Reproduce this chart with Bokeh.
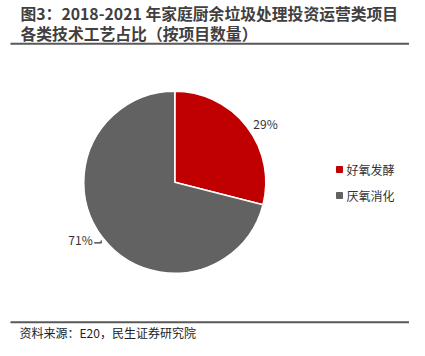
import math
from bokeh.plotting import figure
from bokeh.models import Range1d, ColumnDataSource
from bokeh.core.properties import value
from bokeh.embed import file_html
from bokeh.resources import INLINE

title_lines = ["图3：2018-2021 年家庭厨余垃圾处理投资运营类项目", "各类技术工艺占比（按项目数量）"]
source_note = "资料来源：E20，民生证券研究院"
categories = ["好氧发酵", "厌氧消化"]
shares = [29, 71]
colors = ["#C00000", "#626262"]
labels = ["29%", "71%"]

W, H = 409, 340
FONT = "Noto Sans CJK SC"

p = figure(width=W, height=H, output_backend="svg", toolbar_location=None,
           x_range=Range1d(0, W), y_range=Range1d(0, H), min_border=0)
p.axis.visible = False
p.grid.visible = False
p.outline_line_color = None
p.background_fill_color = "white"

# pie: first slice starts at 12 o'clock going clockwise
total = sum(shares)
cx, cy, r = 174.3, 158.3, 91
ends, starts = [], []
a = math.pi / 2
for s in shares:
    b = a - 2 * math.pi * s / total
    starts.append(b)
    ends.append(a)
    a = b
src = ColumnDataSource(dict(start=starts, end=ends, color=colors, cat=categories))
p.wedge(x=cx, y=cy, radius=r, start_angle="start", end_angle="end",
        fill_color="color", line_color="white", line_width=1.5, source=src)

# data labels
p.text(x=[265, 80], y=[217, 101], text=labels, text_font=value(FONT), text_font_size="12px",
       text_color="#333333", text_align="center", text_baseline="middle")
# leader for 71%
p.line(x=[93.7, 100.7, 100.7], y=[97.7, 97.7, 100], line_color="#333333", line_width=1.2)

# legend
p.scatter(x=[339, 339], y=[171, 145], marker="square", size=6, color=colors)
p.text(x=[346, 346], y=[171, 145], text=categories, text_font=value(FONT), text_font_size="12px",
       text_color="#333333", text_align="left", text_baseline="middle")

# title
p.text(x=[20, 20], y=[327, 307], text=title_lines, text_font=value(FONT), text_font_size="15.8px",
       text_font_style="bold", text_color="#404040", text_align="left", text_baseline="middle")
p.line(x=[10, 409], y=[296.7, 296.7], line_color="#595959", line_width=2)

# footer
p.line(x=[10, 409], y=[18.3, 18.3], line_color="#595959", line_width=2)
p.text(x=[19], y=[8], text=[source_note], text_font=value(FONT), text_font_size="12px",
       text_color="#222222", text_align="left", text_baseline="middle")

open("out.html", "w").write(file_html(p, INLINE))
